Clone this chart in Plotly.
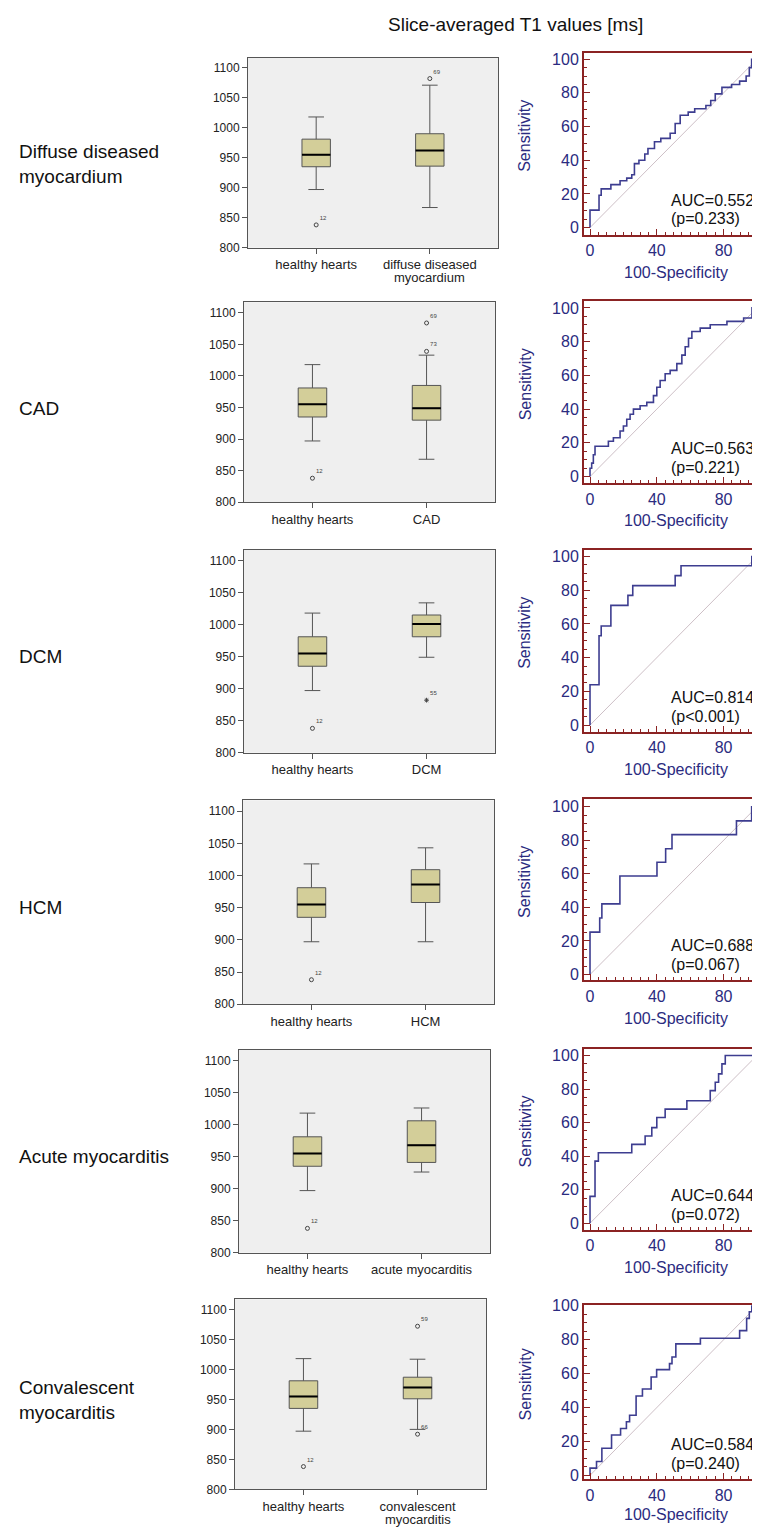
import plotly.graph_objects as go

W, H = 760, 1532
OFF = 8  # page body margin of the html output
FW, FH = W - OFF, H - OFF

# ---------------- data ----------------
row_labels = ["Diffuse diseased<br>myocardium", "CAD", "DCM", "HCM",
              "Acute myocarditis", "Convalescent<br>myocarditis"]
group_labels = ["diffuse diseased", "CAD", "DCM", "HCM",
                "acute myocarditis", "convalescent"]
group_labels_line2 = ["myocardium", "", "", "", "", "myocarditis"]
control_label = "healthy hearts"

# healthy hearts: lower whisker, Q1, median, Q3, upper whisker
healthy_stats = [897, 935, 955, 981, 1018]
healthy_outlier = 838
healthy_outlier_id = "12"

disease_lower = [867, 868, 949, 897, 926, 900]
disease_q1 = [936, 930, 981, 958, 941, 951]
disease_median = [962, 949, 1001, 986, 968, 970]
disease_q3 = [990, 985, 1015, 1009, 1006, 987]
disease_upper = [1071, 1033, 1034, 1043, 1026, 1017]

disease_outlier_values = [[1082], [1084, 1039], [882], [], [], [1072, 892]]
disease_outlier_ids = [["69"], ["69", "73"], ["55"], [], [], ["59", "66"]]
disease_outlier_extreme = [[False], [False, False], [True], [], [], [False, False]]

auc_text = ["AUC=0.552", "AUC=0.563", "AUC=0.814", "AUC=0.688", "AUC=0.644", "AUC=0.584"]
p_text = ["(p=0.233)", "(p=0.221)", "(p<0.001)", "(p=0.067)", "(p=0.072)", "(p=0.240)"]

# ROC curves: 100-specificity (x) and sensitivity (y) corner points
roc_x_diffuse = [0, 0, 5.4, 6.7, 12.5, 18, 22, 25, 26.6, 29.3, 32.8, 34.7, 38.6, 42.4, 48, 51, 54,
                 58.8, 62.7, 69.4, 72.3, 75, 79, 84.8, 89.6, 93.5, 95.4, 96.8, 100]
roc_y_diffuse = [0, 10.4, 19.2, 23, 25.5, 27.8, 29.4, 31.4, 38, 40, 43.7, 47, 51, 53, 56, 61.8, 66.7,
                 68.6, 70.6, 72.5, 75.5, 79.4, 83.3, 85, 87, 90, 95, 100, 100]

roc_x_cad = [0, 0, 1, 2, 3, 11, 14, 18, 20, 22, 24, 26, 30, 34, 38, 40, 42, 45, 48, 52, 55, 57,
             59, 61, 66, 72, 82, 92, 97, 100]
roc_y_cad = [0, 5, 8, 13, 18, 21, 23, 27, 30, 34, 37, 40, 42, 44, 48, 53, 57, 61, 63, 67, 72, 77,
             82, 86, 88, 90, 92, 94, 100, 100]

roc_x_dcm = [0, 0, 5.4, 6.7, 12.5, 22.7, 25.6, 51, 54.5, 96.9, 100]
roc_y_dcm = [0, 23.9, 53, 58.8, 71, 76.9, 82.7, 88.6, 94.5, 100, 100]

roc_x_hcm = [0, 0, 5.8, 7.1, 17.9, 40.1, 45.3, 49.1, 87.7, 96.8, 100]
roc_y_hcm = [0, 25.3, 33.7, 42.1, 58.7, 66.9, 75, 83.4, 91.6, 100, 100]

roc_x_acute = [0, 0, 3, 5, 25, 33, 37, 40, 45, 58, 72, 75, 77, 79, 81, 100]
roc_y_acute = [0, 16, 37, 42, 47, 52, 57, 63, 68, 73, 79, 84, 89, 95, 100, 100]

roc_x_conv = [0, 0, 3.9, 7.1, 12.9, 18.3, 21.8, 23.7, 27.6, 31.4, 36.6, 39.9, 47.6, 49.1, 51.4,
              66.1, 89.6, 93.8, 95.4, 96.9, 100]
roc_y_conv = [0, 4.3, 8.2, 16, 23.8, 27.7, 31.6, 35.5, 46.8, 51, 58, 62.4, 65.9, 69.8, 77.6,
              80.9, 85.4, 92.6, 96.5, 100, 100]

roc_x = [roc_x_diffuse, roc_x_cad, roc_x_dcm, roc_x_hcm, roc_x_acute, roc_x_conv]
roc_y = [roc_y_diffuse, roc_y_cad, roc_y_dcm, roc_y_hcm, roc_y_acute, roc_y_conv]

title_text = "Slice-averaged T1 values [ms]"
box_yticks = [800, 850, 900, 950, 1000, 1050, 1100]
roc_xticks = [0, 40, 80]
roc_yticks = [0, 20, 40, 60, 80, 100]

# ---------------- layout geometry (page pixels) ----------------
box_frames = [(248, 498, 50, 242), (244, 495, 297, 499), (244, 495, 547, 752),
              (243, 494, 800, 1006), (239, 490, 1052, 1257), (235, 486, 1304, 1496)]
roc_frames = [(45, 229, -4.3, 103.9), (296, 480, -4.0, 104.0), (547, 731, -4.0, 104.0),
              (799, 982, -3.5, 104.5), (1051, 1234, -4.0, 104.0), (1310, 1486, -2.4, 100.4)]
roc_xtitle_dy = [38, 38, 38, 38, 38, 35]
row_label_y = [157, 404, 655, 908, 1160, 1406]
ROC_LEFT = 584
AUC_LEFT = 669

FONT = "Liberation Sans, Arial, Helvetica, sans-serif"
NAVY = "#2b2b80"
DARKRED = "#8b2323"
GREY = "#555555"


def px_x(p):
    return (p - OFF) / FW


def px_y(p):
    return 1 - (p - OFF) / FH


fig = go.Figure()
layout = {}
annotations = []
shapes = []

BOX_W = 0.25

for k in range(6):
    bi = 2 * k + 1
    ri = 2 * k + 2
    bx = "x" if bi == 1 else f"x{bi}"
    by = "y" if bi == 1 else f"y{bi}"
    rx = f"x{ri}"
    ry = f"y{ri}"
    bxk = "xaxis" if bi == 1 else f"xaxis{bi}"
    byk = "yaxis" if bi == 1 else f"yaxis{bi}"
    rxk = f"xaxis{ri}"
    ryk = f"yaxis{ri}"

    # ---------- box panel ----------
    l, r, t, b = box_frames[k]
    stats_lo = [healthy_stats[0], disease_lower[k]]
    stats_q1 = [healthy_stats[1], disease_q1[k]]
    stats_md = [healthy_stats[2], disease_median[k]]
    stats_q3 = [healthy_stats[3], disease_q3[k]]
    stats_hi = [healthy_stats[4], disease_upper[k]]
    fig.add_trace(go.Box(
        x=[0, 1], q1=stats_q1, median=stats_md, q3=stats_q3,
        lowerfence=stats_lo, upperfence=stats_hi,
        width=BOX_W, whiskerwidth=0.55, fillcolor="#d3ce99",
        line=dict(color=GREY, width=1), boxpoints=False,
        xaxis=bx, yaxis=by, hoverinfo="skip"))
    # median lines
    mx, my = [], []
    for i, m in enumerate(stats_md):
        mx += [i - BOX_W / 2, i + BOX_W / 2, None]
        my += [m, m, None]
    fig.add_trace(go.Scatter(x=mx, y=my, mode="lines", line=dict(color="black", width=2),
                             xaxis=bx, yaxis=by, hoverinfo="skip"))
    # outliers
    ox = [0] + [1] * len(disease_outlier_values[k])
    oy = [healthy_outlier] + disease_outlier_values[k]
    ot = [healthy_outlier_id] + disease_outlier_ids[k]
    osym = ["circle-open"] + ["asterisk-open" if e else "circle-open" for e in disease_outlier_extreme[k]]
    fig.add_trace(go.Scatter(
        x=ox, y=oy, mode="markers+text", text=ot, textposition="top right",
        textfont=dict(size=6, color="#444444", family=FONT),
        marker=dict(symbol=osym, size=4, color="#444444", line=dict(width=1, color="#444444")),
        xaxis=bx, yaxis=by, hoverinfo="skip"))
    shapes.append(dict(type="rect", xref=f"{bx} domain", yref=f"{by} domain",
                       x0=0, x1=1, y0=0, y1=1, fillcolor="#efefef", line=dict(width=0),
                       layer="below"))
    layout[bxk] = dict(domain=[px_x(l), px_x(r)], anchor=by, range=[-0.6, 1.6],
                       tickvals=[0, 1], ticktext=[control_label, group_labels[k]],
                       ticks="outside", ticklen=5, tickcolor=GREY, showline=True, mirror=True,
                       linecolor=GREY, linewidth=1, showgrid=False, zeroline=False,
                       tickfont=dict(size=13, color="#222222", family=FONT))
    layout[byk] = dict(domain=[px_y(b), px_y(t)], anchor=bx, range=[800, 1117],
                       tickvals=box_yticks, ticks="outside", ticklen=5, tickcolor=GREY,
                       showline=True, mirror=True, linecolor=GREY, linewidth=1,
                       showgrid=False, zeroline=False,
                       tickfont=dict(size=12, color="#222222", family=FONT))
    if group_labels_line2[k]:
        annotations.append(dict(x=1, y=px_y(b + 30), xref=bx, yref="paper",
                                text=group_labels_line2[k], showarrow=False,
                                xanchor="center", yanchor="middle",
                                font=dict(size=13, color="#222222", family=FONT)))

    # ---------- ROC panel ----------
    rt, rb, y0, y1 = roc_frames[k]
    fig.add_trace(go.Scatter(x=[0, 100], y=[0, 100], mode="lines",
                             line=dict(color="#cdbfc6", width=1), xaxis=rx, yaxis=ry,
                             hoverinfo="skip"))
    fig.add_trace(go.Scatter(x=roc_x[k], y=roc_y[k], mode="lines", line_shape="hv",
                             line=dict(color="#3d3d90", width=1.6), xaxis=rx, yaxis=ry,
                             hoverinfo="skip"))
    layout[rxk] = dict(domain=[px_x(ROC_LEFT), 1], anchor=ry, range=[-3.6, 101.8],
                       tickvals=roc_xticks, ticks="inside", ticklen=6, tickwidth=1.3,
                       tickcolor=DARKRED, showline=True, mirror=True, linecolor=DARKRED,
                       linewidth=2, showgrid=False, zeroline=False,
                       minor=dict(dtick=5, ticks="inside", ticklen=3, tickcolor=DARKRED,
                                  showgrid=False),
                       tickfont=dict(size=16, color=NAVY, family=FONT))
    layout[ryk] = dict(domain=[px_y(rb), px_y(rt)], anchor=rx, range=[y0, y1],
                       tickvals=roc_yticks, ticks="inside", ticklen=6, tickwidth=1.3,
                       tickcolor=DARKRED, showline=True, mirror=False, linecolor=DARKRED,
                       linewidth=2, showgrid=False, zeroline=False,
                       minor=dict(dtick=5, ticks="inside", ticklen=3, tickcolor=DARKRED,
                                  showgrid=False),
                       tickfont=dict(size=16, color=NAVY, family=FONT))
    # axis titles
    annotations.append(dict(x=px_x(676), y=px_y(rb + roc_xtitle_dy[k]), xref="paper", yref="paper",
                            text="100-Specificity", showarrow=False,
                            xanchor="center", yanchor="middle",
                            font=dict(size=16, color=NAVY, family=FONT)))
    annotations.append(dict(x=px_x(525), y=px_y((rt + rb) / 2 - 8), xref="paper", yref="paper",
                            text="Sensitivity", showarrow=False, textangle=-90,
                            xanchor="center", yanchor="middle",
                            font=dict(size=16, color=NAVY, family=FONT)))
    annotations.append(dict(x=px_x(AUC_LEFT), y=px_y(rb - 35), xref="paper", yref="paper",
                            text=auc_text[k], showarrow=False, xanchor="left", yanchor="middle",
                            font=dict(size=16, color="#111111", family=FONT)))
    annotations.append(dict(x=px_x(AUC_LEFT), y=px_y(rb - 16), xref="paper", yref="paper",
                            text=p_text[k], showarrow=False, xanchor="left", yanchor="middle",
                            font=dict(size=16, color="#111111", family=FONT)))
    # row label
    annotations.append(dict(x=px_x(17), y=px_y(row_label_y[k]), xref="paper", yref="paper",
                            text=row_labels[k], showarrow=False, xanchor="left", align="left",
                            yanchor="middle",
                            font=dict(size=19, color="#111111", family=FONT)))

annotations.append(dict(x=px_x(515), y=px_y(17), xref="paper", yref="paper",
                        text=title_text, showarrow=False, xanchor="center", yanchor="middle",
                        font=dict(size=19, color="#111111", family=FONT)))

fig.update_layout(width=FW, height=FH, margin=dict(l=0, r=0, t=0, b=0),
                  paper_bgcolor="white", plot_bgcolor="rgba(0,0,0,0)", showlegend=False,
                  annotations=annotations, shapes=shapes, **layout)

fig.write_html("out.html")
